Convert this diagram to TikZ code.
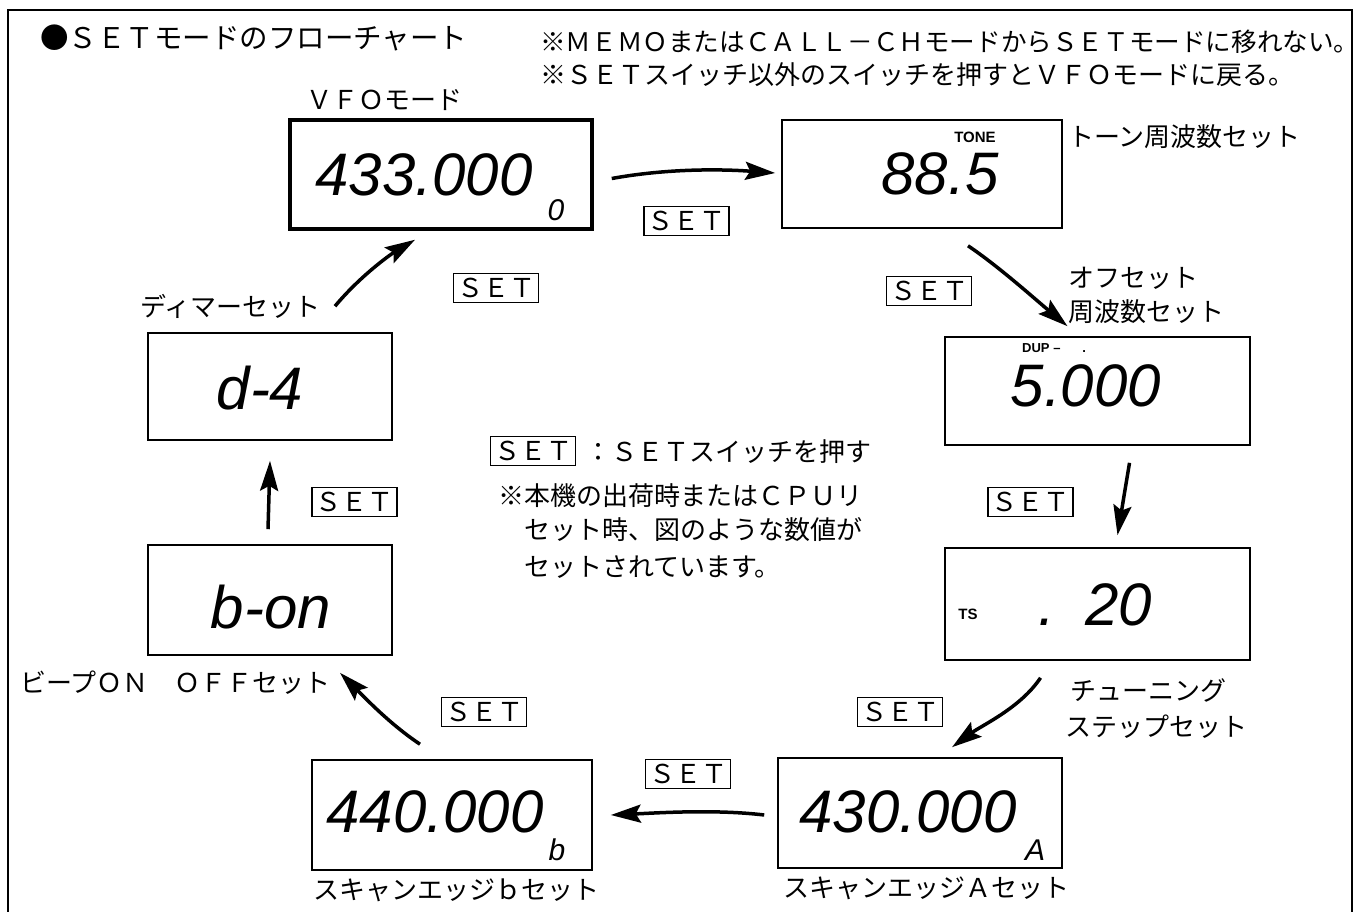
\documentclass[tikz,border=0pt]{standalone}
\usepackage{fontspec}
\setmainfont{Noto Sans CJK JP}[CharacterWidth=Full]
\newfontfamily\lcdfont{Liberation Sans}
\usetikzlibrary{arrows.meta,calc}
\begin{document}
\begin{tikzpicture}[x=1pt,y=-1pt,
  lcdbox/.style={draw,line width=1.6pt,inner sep=0pt},
  setbox/.style={draw,line width=1.3pt,inner sep=0pt,minimum width=85pt,minimum height=29pt,font=\fontsize{26}{26}\selectfont},
  lbl/.style={font=\fontsize{26}{30}\selectfont,inner sep=0pt,anchor=west},
  seg/.style={font=\lcdfont\itshape\fontsize{60}{60}\selectfont,inner sep=0pt},
  segs/.style={font=\lcdfont\itshape\fontsize{30}{30}\selectfont,inner sep=0pt},
  ind/.style={font=\lcdfont\bfseries\fontsize{15}{15}\selectfont,inner sep=0pt},
  flow/.style={line width=3.5pt,-{Stealth[length=30pt,width=18pt,inset=5pt]}},
]
\useasboundingbox (0,0) rectangle (1364,912);
\draw[line width=1.6pt] (8,912) -- (8,10) -- (1352,10) -- (1352,912);

% headings and notes
\node[lbl,font=\fontsize{28.5}{32}\selectfont] (title) at (40,38) {●SETモードのフローチャート};
\node[lbl,font=\fontsize{25.6}{30}\selectfont] (note1) at (540,42) {※MEMOまたはCALL-CHモードからSETモードに移れない。};
\node[lbl] (note2) at (540,75) {※SETスイッチ以外のスイッチを押すとVFOモードに戻る。};

% display boxes
\node[lcdbox,line width=3.5pt,minimum width=302pt,minimum height=109pt] (vfo) at (441,174.5) {};
\node[lcdbox,minimum width=280pt,minimum height=108pt] (tone) at (922,174) {};
\node[lcdbox,minimum width=305pt,minimum height=108pt] (dup) at (1097.5,391) {};
\node[lcdbox,minimum width=305pt,minimum height=112pt] (ts) at (1097.5,604) {};
\node[lcdbox,minimum width=284pt,minimum height=110pt] (ea) at (920,813) {};
\node[lcdbox,minimum width=280pt,minimum height=110pt] (eb) at (452,815) {};
\node[lcdbox,minimum width=244pt,minimum height=110pt] (bon) at (270,600) {};
\node[lcdbox,minimum width=244pt,minimum height=107pt] (dim) at (270,386.5) {};

% display contents
\node[seg] (vfod) at (424,175) {433.000};
\node[segs] (vfoc) at (556,210) {0};
\node[ind] (tonei) at (975,137) {TONE};
\node[seg] (toned) at (940,174) {88.5};
\node[ind,anchor=west,font=\lcdfont\bfseries\fontsize{13}{13}\selectfont] (dupi) at (1022,348) {DUP –\hspace{22pt}.};
\node[seg] (dupd) at (1086,386) {5.000};
\node[ind] (tsi) at (968,614) {TS};
\node[seg,anchor=east] (tsd) at (1152,605) {.\hspace{30pt}20};
\node[seg] (ead) at (908,812) {430.000};
\node[segs] (eac) at (1035,850) {A};
\node[seg] (ebd) at (435,812) {440.000};
\node[segs] (ebc) at (557,850) {b};
\node[seg] (bond) at (271,607) {b-on};
\node[seg] (dimd) at (260,388) {d-4};

% labels
\node[lbl] (lvfo) at (306,100) {VFOモード};
\node[lbl] (ltone) at (1068,137) {トーン周波数セット};
\node[lbl] (ldup1) at (1068,278) {オフセット};
\node[lbl] (ldup2) at (1068,312) {周波数セット};
\node[lbl] (lts1) at (1070,690) {チューニング};
\node[lbl] (lts2) at (1065,727) {ステップセット};
\node[lbl] (lea) at (783,888) {スキャンエッジAセット};
\node[lbl] (leb) at (313,890) {スキャンエッジbセット};
\node[lbl] (lbon) at (20,683) {ビープON　OFFセット};
\node[lbl] (ldim) at (140,306) {ディマーセット};

% SET keys
\node[setbox] (s1) at (686.5,221) {SET};
\node[setbox] (s2) at (929,291) {SET};
\node[setbox] (s3) at (1030.5,502) {SET};
\node[setbox] (s4) at (900,712) {SET};
\node[setbox] (s5) at (688,774) {SET};
\node[setbox] (s6) at (484,712) {SET};
\node[setbox] (s7) at (354.5,502) {SET};
\node[setbox] (s8) at (496,288) {SET};

% legend
\node[setbox] (lgset) at (533,451) {SET};
\node[lbl] (lgtxt) at (585,452) {：SETスイッチを押す};
\node[lbl] (lg1) at (498,496) {※本機の出荷時またはCPUリ};
\node[lbl] (lg2) at (524,530) {セット時、図のような数値が};
\node[lbl] (lg3) at (524,567) {セットされています。};

% flow arrows
\draw[flow] ($(vfo.east)+(18,4)$) .. controls +(55,-10) and +(-55,-4) .. ($(tone.west)+(-6,-1)$);
\draw[flow] ($(tone.south)+(46,17)$) .. controls +(30,20) and +(-30,-25) .. ($(dup.north)+(-30,-10)$);
\draw[flow] ($(dup.south)+(32,17)$) -- ($(ts.north)+(20,-12)$);
\draw[flow] ($(ts.south)+(-57,17)$) .. controls +(-20,30) and +(30,-22) .. ($(ea.north)+(32,-10)$);
\draw[flow] ($(ea.west)+(-13,2)$) .. controls +(-50,-6) and +(45,-2) .. ($(eb.east)+(18,0)$);
\draw[flow] ($(eb.north)+(-32,-15)$) .. controls +(-30,-20) and +(25,25) .. ($(bon.south)+(70,17)$);
\draw[flow] ($(bon.north)+(-2,-15)$) -- ($(dim.south)+(0,20)$);
\draw[flow] ($(dim.north)+(65,-26)$) .. controls +(25,-30) and +(-25,15) .. ($(vfo.south)+(-26,9)$);
\end{tikzpicture}
\end{document}
